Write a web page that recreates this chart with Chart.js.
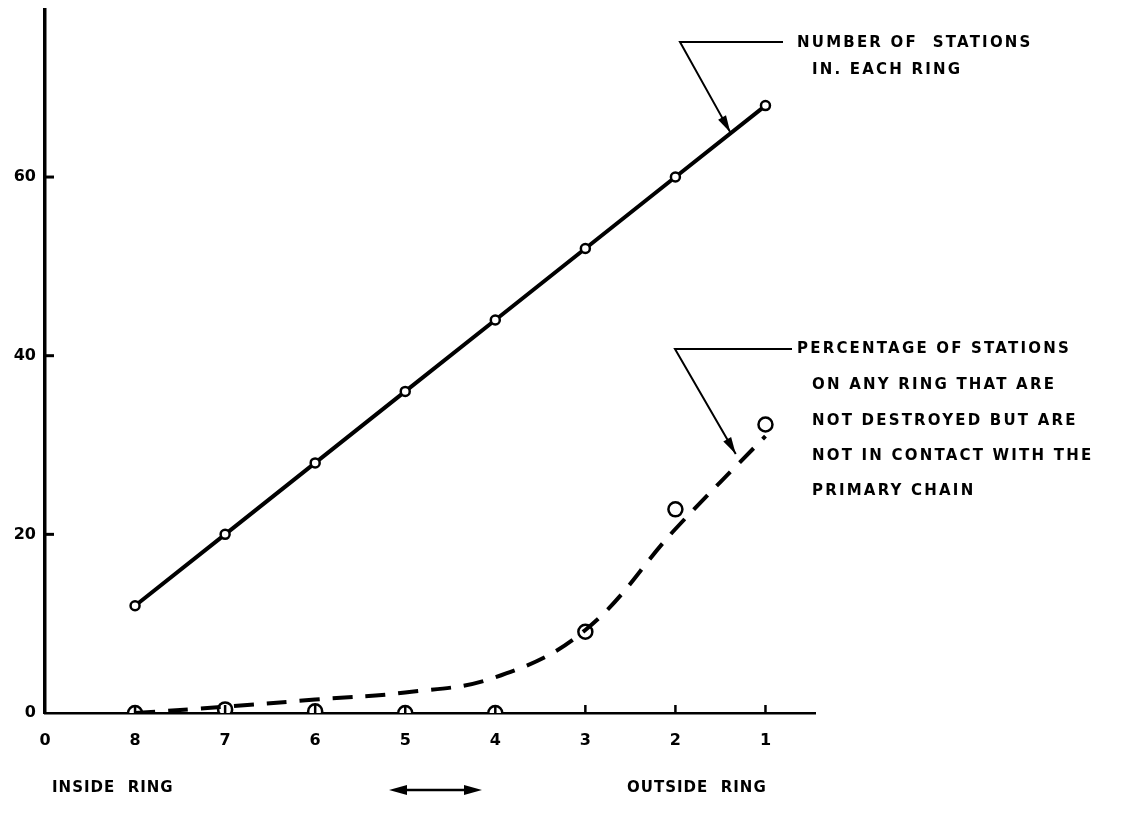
<!DOCTYPE html>
<html>
<head>
<meta charset="utf-8">
<script src="https://cdn.jsdelivr.net/npm/chart.js@4.4.1/dist/chart.umd.min.js"></script>
<style>
  body { margin: 0; background: #fff; }
  canvas { display: block; }
</style>
</head>
<body>
<canvas id="ringChart" width="1128" height="814"></canvas>
<script>
// ring numbers, inside (8) to outside (1)
const rings = [8, 7, 6, 5, 4, 3, 2, 1];
// number of stations in each ring
const stations = [12, 20, 28, 36, 44, 52, 60, 68];
// percentage not destroyed but cut off from the primary chain (plotted circles)
const pctPoints = [0, 0.4, 0.2, 0, 0, 9.1, 22.8, 32.3];
// hand-drawn dashed trend through those circles
const pctCurve = [0, 0.7, 1.5, 2.3, 4.0, 9.3, 20.6, 31];
const yTickValues = [0, 20, 40, 60];
const originValue = 9; // the origin is lettered "0" on the drawing

const ink = '#000';

function toPoints(ys) {
  return rings.map((r, i) => ({x: r, y: ys[i]}));
}

// short tick marks drawn inward from the axes
const inwardTicks = {
  id: 'inwardTicks',
  afterDraw(chart) {
    const {ctx, scales: {x, y}, chartArea} = chart;
    ctx.save();
    ctx.strokeStyle = ink;
    ctx.lineWidth = 3;
    yTickValues.forEach(v => {
      if (v === 0) return;
      const py = y.getPixelForValue(v);
      ctx.beginPath();
      ctx.moveTo(chartArea.left, py);
      ctx.lineTo(chartArea.left + 9, py);
      ctx.stroke();
    });
    ctx.lineWidth = 2.5;
    rings.forEach(r => {
      const px = x.getPixelForValue(r);
      ctx.beginPath();
      ctx.moveTo(px, chartArea.bottom);
      ctx.lineTo(px, chartArea.bottom - 8);
      ctx.stroke();
    });
    ctx.restore();
  }
};

function arrowHead(ctx, fx, fy, tx, ty, len, half) {
  const a = Math.atan2(ty - fy, tx - fx);
  ctx.beginPath();
  ctx.moveTo(tx, ty);
  ctx.lineTo(tx - len * Math.cos(a) + half * Math.sin(a), ty - len * Math.sin(a) - half * Math.cos(a));
  ctx.lineTo(tx - len * Math.cos(a) - half * Math.sin(a), ty - len * Math.sin(a) + half * Math.cos(a));
  ctx.closePath();
  ctx.fill();
}

// leader lines, notes and the bottom captions
const notes = {
  id: 'notes',
  afterDraw(chart) {
    const {ctx, scales: {x, y}} = chart;
    ctx.save();
    ctx.strokeStyle = ink;
    ctx.fillStyle = ink;
    ctx.lineWidth = 2;

    // leader to the stations line
    const tip1 = {x: x.getPixelForValue(1.39), y: y.getPixelForValue(65)};
    ctx.beginPath();
    ctx.moveTo(783, 42);
    ctx.lineTo(680, 42);
    ctx.lineTo(tip1.x, tip1.y);
    ctx.stroke();
    arrowHead(ctx, 680, 42, tip1.x, tip1.y, 17, 4.5);

    // leader to the dashed curve
    const tip2 = {x: x.getPixelForValue(1.33), y: y.getPixelForValue(29)};
    ctx.beginPath();
    ctx.moveTo(792, 349);
    ctx.lineTo(675, 349);
    ctx.lineTo(tip2.x, tip2.y);
    ctx.stroke();
    arrowHead(ctx, 675, 349, tip2.x, tip2.y, 17, 4.5);

    ctx.font = 'bold 15px "DejaVu Sans", sans-serif';
    ctx.letterSpacing = '2.2px';
    ctx.textBaseline = 'middle';
    ctx.textAlign = 'left';
    ctx.fillText('NUMBER OF  STATIONS', 797, 43);
    ctx.fillText('IN. EACH RING', 812, 70);

    ctx.fillText('PERCENTAGE OF STATIONS', 797, 349);
    ctx.fillText('ON ANY RING THAT ARE', 812, 385);
    ctx.fillText('NOT DESTROYED BUT ARE', 812, 421);
    ctx.fillText('NOT IN CONTACT WITH THE', 812, 456);
    ctx.fillText('PRIMARY CHAIN', 812, 491);

    ctx.letterSpacing = '1px';
    ctx.fillText('INSIDE  RING', 52, 788);
    ctx.fillText('OUTSIDE  RING', 627, 788);

    // double-headed arrow between the captions
    ctx.lineWidth = 2.5;
    ctx.beginPath();
    ctx.moveTo(398, 790);
    ctx.lineTo(473, 790);
    ctx.stroke();
    arrowHead(ctx, 480, 790, 389, 790, 18, 5);
    arrowHead(ctx, 389, 790, 482, 790, 18, 5);
    ctx.restore();
  }
};

new Chart(document.getElementById('ringChart'), {
  type: 'scatter',
  data: {
    datasets: [
      {
        label: 'Number of stations in each ring',
        data: toPoints(stations),
        showLine: true,
        borderColor: ink,
        borderWidth: 4,
        pointRadius: 4.5,
        pointBorderWidth: 2.5,
        pointBackgroundColor: '#fff',
        pointBorderColor: ink
      },
      {
        label: 'Trend',
        data: toPoints(pctCurve),
        showLine: true,
        borderColor: ink,
        borderWidth: 4,
        borderDash: [20, 13],
        tension: 0.4,
        pointRadius: 0
      },
      {
        label: 'Percentage of stations cut off',
        data: toPoints(pctPoints),
        showLine: false,
        pointRadius: 7,
        pointBorderWidth: 2.5,
        pointBackgroundColor: '#fff',
        pointBorderColor: ink
      }
    ]
  },
  options: {
    responsive: false,
    animation: false,
    layout: {padding: {top: 10, right: 313, left: 0, bottom: 0}},
    plugins: {
      legend: {display: false},
      tooltip: {enabled: false}
    },
    scales: {
      x: {
        type: 'linear',
        reverse: true,
        min: 0.45,
        max: originValue,
        afterFit(scale) {
          scale.height = 101;
          scale.paddingLeft = 0;
          scale.paddingRight = 0;
        },
        grid: {display: false, drawTicks: false},
        border: {display: true, color: ink, width: 2.5},
        ticks: {
          stepSize: 1,
          includeBounds: false,
          padding: 18,
          color: ink,
          font: {family: 'DejaVu Sans', size: 16, weight: 'bold'},
          callback: v => (v === originValue ? '0' : String(v))
        }
      },
      y: {
        type: 'linear',
        min: 0,
        max: 78.7,
        afterFit(scale) {
          scale.width = 45;
          scale.paddingTop = 0;
          scale.paddingBottom = 0;
        },
        afterBuildTicks(scale) { scale.ticks = yTickValues.map(v => ({value: v})); },
        grid: {display: false, drawTicks: false},
        border: {display: true, color: ink, width: 3.5},
        ticks: {
          padding: 9,
          color: ink,
          font: {family: 'DejaVu Sans', size: 16, weight: 'bold'}
        }
      }
    }
  },
  plugins: [inwardTicks, notes]
});
</script>
</body>
</html>
